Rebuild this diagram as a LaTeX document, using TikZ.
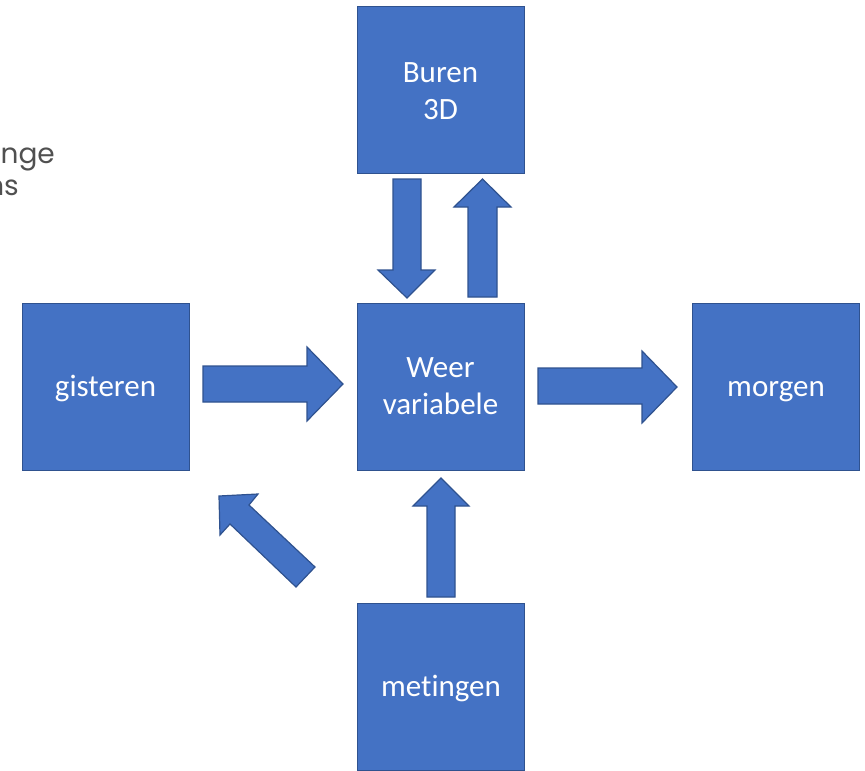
\documentclass[tikz,border=0pt]{standalone}
\usepackage{fontspec}
\setmainfont[Ligatures=NoCommon]{Carlito}
\newfontfamily\gothic{Poppins}
\definecolor{officeblue}{HTML}{4472C4}
\definecolor{bordblue}{HTML}{2F528F}
\definecolor{graytext}{HTML}{505050}
\newcommand\boxtxt[2]{\raisebox{#1}[0pt][0pt]{\begin{tabular}[t]{@{}c@{}}#2\end{tabular}}}
\begin{document}
\begin{tikzpicture}[x=1pt,y=-1pt,
  blk/.style={draw=bordblue, fill=officeblue, line width=0.8pt,
    minimum width=167pt, minimum height=167pt, inner sep=0pt,
    text=white, font=\fontsize{31}{37}\selectfont},
  blockarrow/.style={draw=bordblue, fill=officeblue, line width=1.2pt, line join=miter},
  sidetext/.style={text=graytext, inner sep=0pt, anchor=base east}]
\useasboundingbox (0,0) rectangle (865,771);
% boxes
\node[blk] (buren) at (440.5,90) {\boxtxt{8pt}{Buren\\3D}};
\node[blk] (weer) at (440.5,386.5) {\boxtxt{9.5pt}{Weer\\variabele}};
\node[blk] (gisteren) at (105.5,386.5) {\boxtxt{-9.5pt}{gisteren}};
\node[blk] (morgen) at (776,386.5) {\boxtxt{-9.5pt}{morgen}};
\node[blk] (metingen) at (441,686.5) {\boxtxt{-9.5pt}{metingen}};
% cut-off text at the left edge
\node[sidetext] (t1) at (55,163) {\gothic\fontsize{28}{30}\selectfont ange};
\node[sidetext] (t2) at (19,195) {\gothic\fontsize{28}{30}\selectfont ns};
% block arrows
\draw[blockarrow] (393,179) -- (421,179) -- (421,270) -- (435,270) -- (407,298) -- (378,270) -- (393,270) -- cycle;
\draw[blockarrow] (468,297) -- (497,297) -- (497,207) -- (511,207) -- (482.5,179) -- (454,207) -- (468,207) -- cycle;
\draw[blockarrow] (203,366) -- (307,366) -- (307,347) -- (343,384) -- (307,421) -- (307,402) -- (203,402) -- cycle;
\draw[blockarrow] (538,368) -- (642,368) -- (642,351) -- (677,387) -- (642,423) -- (642,404) -- (538,404) -- cycle;
\draw[blockarrow] (427,597) -- (455,597) -- (455,506) -- (469,506) -- (441,478) -- (413,506) -- (427,506) -- cycle;
\draw[blockarrow] (219,496) -- (258,494) -- (249,505) -- (315,567) -- (296,587) -- (230,524) -- (220,535) -- cycle;
\end{tikzpicture}
\end{document}
